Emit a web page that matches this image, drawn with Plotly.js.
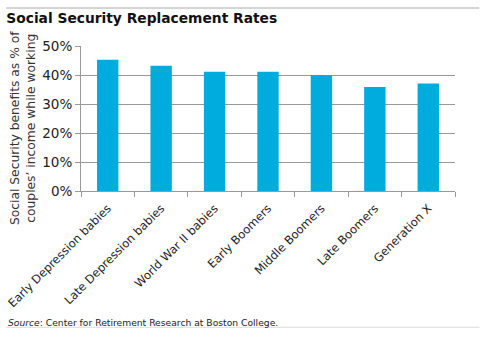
<!DOCTYPE html>
<html><head><meta charset="utf-8">
<script src="https://cdn.plot.ly/plotly-3.0.1.min.js"></script>
<style>body{margin:0;background:#fff}#c{width:484px;height:340px}</style>
</head><body><div id="c"></div>
<script>
const categories = ["Early Depression babies","Late Depression babies","World War II babies","Early Boomers","Middle Boomers","Late Boomers","Generation X"];
const rates = [45.3, 43.2, 41.1, 41.1, 40.0, 35.9, 37.1];
const yTicks = [0,10,20,30,40,50];
const yTickLabels = ["0%","10%","20%","30%","40%","50%"];
const titleText = "Social Security Replacement Rates";
const yTitle = "Social Security benefits as % of<br>couples\u2019 income while working";
const sourceText = "<i>Source</i>: Center for Retirement Research at Boston College.";

const F = "DejaVu Sans, Verdana, sans-serif";
Plotly.newPlot("c", [{
  type: "bar", x: categories, y: rates, width: 0.4,
  marker: {color: "#00ACDE"}, hoverinfo: "skip"
}], {
  width: 484, height: 340,
  margin: {l: 81, r: 29, t: 46, b: 149},
  paper_bgcolor: "#fff", plot_bgcolor: "#fff",
  font: {family: F, color: "#222"},
  showlegend: false,
  title: {text: "<b>" + titleText + "</b>", font: {family: F, size: 13.8, color: "#111"}, x: 0.013, xanchor: "left", y: 0.947, yanchor: "middle"},
  xaxis: {type: "category", tickangle: -45, tickfont: {size: 11.6, color: "#222"}, ticklabelstandoff: 5,
    showline: true, linecolor: "#999", linewidth: 1, ticks: "outside", ticklen: 5, tickcolor: "#999", tickson: "boundaries",
    showgrid: false, zeroline: false, fixedrange: true},
  yaxis: {range: [0, 50], tickvals: yTicks, ticktext: yTickLabels, tickfont: {size: 13.5, color: "#222"},
    showline: true, linecolor: "#999", ticks: "outside", ticklen: 5, tickcolor: "#999",
    showgrid: true, gridcolor: "#999", gridwidth: 1, zeroline: false},
  shapes: [
    {type: "line", xref: "paper", yref: "paper", x0: -0.2, x1: 1.065, y0: 1.262, y1: 1.262, line: {color: "#aaa", width: 1}},
    {type: "line", xref: "paper", yref: "paper", x0: -0.2, x1: 1.065, y0: -0.94, y1: -0.94, line: {color: "#ddd", width: 1}}
  ],
  annotations: [
    {text: sourceText, xref: "paper", yref: "paper", x: -0.201, y: -0.908, xanchor: "left", yanchor: "middle", showarrow: false, font: {size: 9.2, color: "#222"}},
    {text: yTitle, xref: "paper", yref: "paper", x: -0.155, y: 0.434, xanchor: "center", yanchor: "middle", textangle: -90, showarrow: false, font: {size: 12.3, color: "#333"}}
  ]
}, {displayModeBar: false, staticPlot: true});
</script></body></html>
